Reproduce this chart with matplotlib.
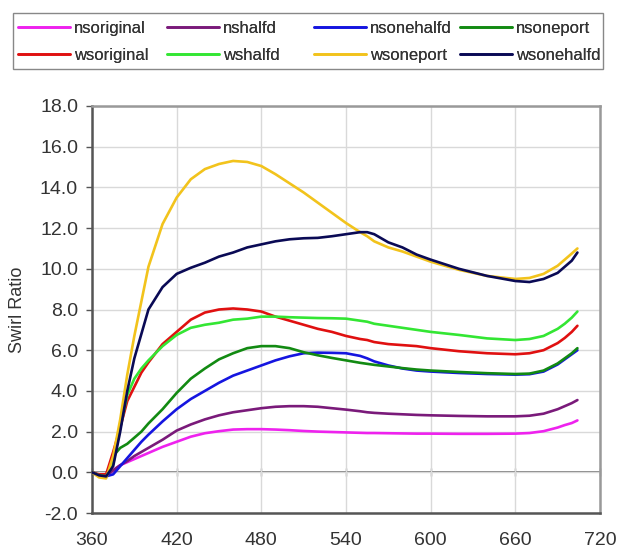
import matplotlib
matplotlib.use("Agg")
import matplotlib.pyplot as plt
from matplotlib.patches import Rectangle

plt.rcParams['font.family'] = ['Liberation Sans', 'DejaVu Sans']
plt.rcParams['axes.unicode_minus'] = False

crank_angle = [360, 365, 370, 375, 380, 385, 390, 395, 400, 410, 420, 430, 440, 450,
               460, 470, 480, 490, 500, 510, 520, 530, 540, 550, 555, 560, 570, 580,
               590, 600, 620, 640, 660, 670, 680, 690, 695, 700, 704]

nsoriginal = [0.0, -0.15, -0.2, 0.1, 0.35, 0.5, 0.65, 0.8, 0.95, 1.25, 1.5, 1.75, 1.92, 2.02,
              2.1, 2.12, 2.12, 2.1, 2.07, 2.03, 2.0, 1.98, 1.96, 1.94, 1.93, 1.93, 1.92, 1.91,
              1.9, 1.9, 1.89, 1.89, 1.9, 1.93, 2.02, 2.2, 2.32, 2.42, 2.55]
nshalfd = [0.0, -0.15, -0.2, 0.1, 0.35, 0.55, 0.8, 1.0, 1.2, 1.6, 2.05, 2.35, 2.6, 2.8,
           2.95, 3.05, 3.15, 3.22, 3.25, 3.25, 3.22, 3.15, 3.08, 3.0, 2.95, 2.92, 2.88, 2.85,
           2.82, 2.8, 2.77, 2.75, 2.75, 2.78, 2.88, 3.1, 3.25, 3.4, 3.55]
nsonehalfd = [0.0, -0.15, -0.2, -0.1, 0.3, 0.7, 1.1, 1.5, 1.85, 2.5, 3.1, 3.6, 4.0, 4.4,
              4.75, 5.0, 5.25, 5.5, 5.7, 5.85, 5.88, 5.87, 5.85, 5.72, 5.6, 5.45, 5.25, 5.1,
              5.0, 4.95, 4.88, 4.83, 4.8, 4.82, 4.95, 5.3, 5.55, 5.8, 6.0]
nsoneport = [0.0, -0.15, -0.2, 0.8, 1.2, 1.4, 1.7, 2.0, 2.4, 3.1, 3.9, 4.6, 5.1, 5.55,
             5.85, 6.1, 6.2, 6.2, 6.1, 5.9, 5.75, 5.62, 5.5, 5.38, 5.33, 5.28, 5.2, 5.12,
             5.05, 5.0, 4.93, 4.87, 4.83, 4.85, 5.0, 5.35, 5.6, 5.85, 6.1]
wsoriginal = [0.0, -0.1, -0.1, 1.0, 2.2, 3.5, 4.2, 4.9, 5.4, 6.3, 6.9, 7.5, 7.85, 8.0,
              8.05, 8.0, 7.9, 7.65, 7.45, 7.25, 7.05, 6.9, 6.7, 6.55, 6.5, 6.4, 6.3, 6.25,
              6.2, 6.1, 5.95, 5.85, 5.8, 5.85, 6.0, 6.35, 6.6, 6.9, 7.2]
wshalfd = [0.0, -0.15, -0.2, 0.4, 2.2, 3.8, 4.6, 5.1, 5.5, 6.2, 6.75, 7.1, 7.25, 7.35,
           7.5, 7.55, 7.65, 7.65, 7.62, 7.6, 7.58, 7.57, 7.55, 7.45, 7.4, 7.3, 7.2, 7.1,
           7.0, 6.9, 6.75, 6.58, 6.5, 6.55, 6.7, 7.05, 7.3, 7.6, 7.9]
wsoneport = [0.0, -0.25, -0.3, 0.8, 2.6, 4.8, 6.7, 8.4, 10.1, 12.2, 13.5, 14.4, 14.9, 15.15,
             15.3, 15.25, 15.05, 14.65, 14.2, 13.75, 13.25, 12.75, 12.25, 11.8, 11.6, 11.35,
             11.05, 10.85, 10.6, 10.35, 9.95, 9.65, 9.5, 9.55, 9.75, 10.15, 10.45, 10.75, 11.0]
wsonehalfd = [0.0, -0.15, -0.2, 0.3, 2.0, 4.0, 5.6, 6.8, 8.0, 9.1, 9.75, 10.05, 10.3, 10.6,
              10.8, 11.05, 11.2, 11.35, 11.45, 11.5, 11.52, 11.6, 11.7, 11.8, 11.8, 11.7,
              11.3, 11.05, 10.7, 10.45, 10.0, 9.65, 9.4, 9.35, 9.5, 9.8, 10.1, 10.4, 10.8]

series_names = ['nsoriginal', 'nshalfd', 'nsonehalfd', 'nsoneport',
                'wsoriginal', 'wshalfd', 'wsoneport', 'wsonehalfd']
series_values = [nsoriginal, nshalfd, nsonehalfd, nsoneport,
                 wsoriginal, wshalfd, wsoneport, wsonehalfd]
series_colors = ['#ee22ee', '#7a1a7a', '#1515e0', '#128a12',
                 '#e01010', '#33e633', '#f2c31c', '#0a0a55']

x_ticks = [360, 420, 480, 540, 600, 660, 720]
y_ticks = [-2.0, 0.0, 2.0, 4.0, 6.0, 8.0, 10.0, 12.0, 14.0, 16.0, 18.0]

W, H = 619, 549
fig = plt.figure(figsize=(W / 100, H / 100), dpi=100)
ax = fig.add_axes([92 / W, 1 - 513 / H, (600 - 92) / W, (513 - 106) / H])

lines = {}
for name, vals, col in zip(series_names, series_values, series_colors):
    ln, = ax.plot(crank_angle, vals, color=col, lw=1.9, label=name,
                  solid_capstyle='round', zorder=3)
    lines[name] = ln

ax.set_xlim(360, 720)
ax.set_ylim(-2, 18)
ax.set_xticks(x_ticks)
ax.set_xticklabels([str(t) for t in x_ticks])
ax.set_yticks(y_ticks)
ax.set_yticklabels(['%.1f' % t for t in y_ticks])
ax.grid(True, color='#d9d9d9', lw=1.0, zorder=0)
ax.set_axisbelow(True)

for s in ['left', 'bottom']:
    ax.spines[s].set_color('#555555')
    ax.spines[s].set_linewidth(1.8)
for s in ['top', 'right']:
    ax.spines[s].set_color('#999999')
    ax.spines[s].set_linewidth(1.8)

ax.tick_params(axis='y', direction='out', length=4.5, width=1.0, color='#555555',
               labelsize=14, labelcolor='#333333', pad=5.5)
ax.tick_params(axis='x', length=0, labelsize=14, labelcolor='#333333', pad=14)

# zero line with tick marks (Excel-style category axis crossing at 0)
zero_ax = ax.secondary_xaxis(0.1)
zero_ax.set_xticks(x_ticks)
zero_ax.set_xticklabels([''] * len(x_ticks))
zero_ax.spines['bottom'].set_color('#777777')
zero_ax.spines['bottom'].set_linewidth(1.3)
zero_ax.tick_params(direction='inout', length=6, width=1.0, color='#777777')

fig.text(17 / W, 1 - 310 / H, 'Swirl Ratio', rotation=90, ha='center', va='center',
         fontsize=13, color='#333333')

# legend: box plus four columns
fig.patches.append(Rectangle((13 / W, 1 - 69 / H), (603 - 13) / W, (69 - 13) / H,
                             transform=fig.transFigure, fill=False,
                             edgecolor='#888888', lw=1.0))
col_x = [18, 167, 314, 460]
col_pairs = [('nsoriginal', 'wsoriginal'), ('nshalfd', 'wshalfd'),
             ('nsonehalfd', 'wsoneport'), ('nsoneport', 'wsonehalfd')]
for cx, pair in zip(col_x, col_pairs):
    leg = fig.legend([lines[p] for p in pair], list(pair), loc='upper left',
                     bbox_to_anchor=(cx / W, 1 - 21 / H), frameon=False,
                     fontsize=12, handlelength=3.1, handletextpad=0.25,
                     borderpad=0.0, borderaxespad=0.0, labelspacing=0.72,
                     labelcolor='#333333')
    fig.add_artist(leg)

fig.savefig('out.png', dpi=100)
